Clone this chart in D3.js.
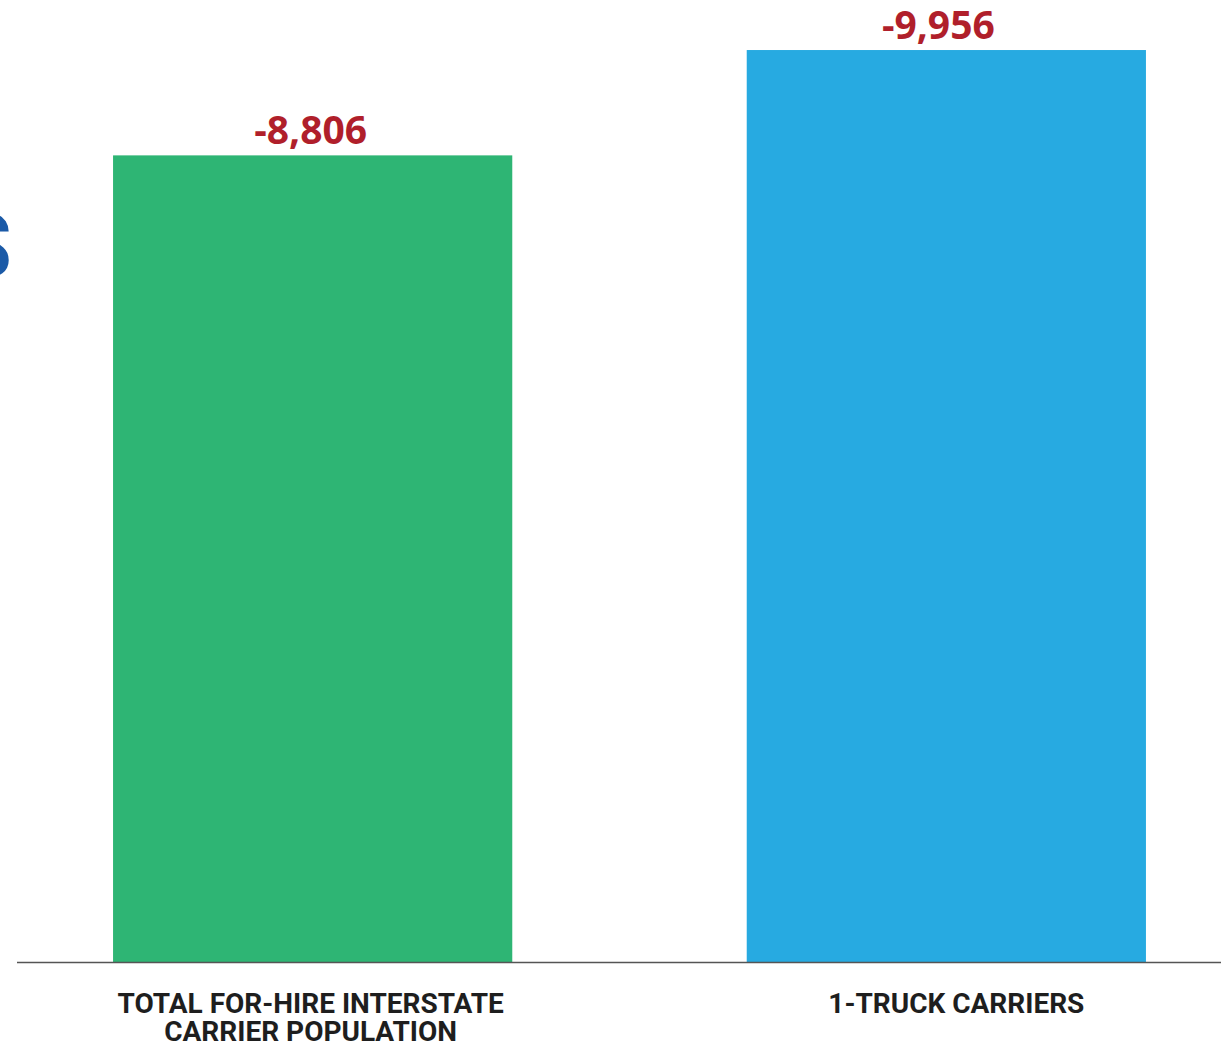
<!DOCTYPE html>
<html>
<head>
<meta charset="utf-8">
<script src="https://cdn.jsdelivr.net/npm/d3@7/dist/d3.min.js"></script>
<style>
  html, body { margin: 0; padding: 0; background: #ffffff; }
  svg { display: block; }
</style>
</head>
<body>
<svg id="chart" width="1221" height="1044"></svg>
<script>
// Change in carrier counts
const categories = ["TOTAL FOR-HIRE INTERSTATE\nCARRIER POPULATION", "1-TRUCK CARRIERS"];
const values = [-8806, -9956];
const barColors = ["#2eb574", "#27aae1"];
const valueLabels = ["-8,806", "-9,956"];

const W = 1221, H = 1044;
const baseY = 962;

// Small horizontal nudges for the text under and over each bar
const valueShift = [-2, -8];
const catShift = [-2, 10];

const svg = d3.select("#chart");

// Bars are drawn by magnitude, rising from the baseline
const y = d3.scaleLinear()
  .domain([0, 10000])
  .range([baseY, baseY - 916]);

const x = d3.scaleBand()
  .domain(categories)
  .range([18, 1241])
  .paddingInner(0.37)
  .paddingOuter(0.15);

// Edge of the heading letter that runs off the left side
svg.append("text")
  .attr("x", 12)
  .attr("y", 277)
  .attr("text-anchor", "end")
  .attr("font-family", "Roboto, 'Open Sans', sans-serif")
  .attr("font-weight", 700)
  .attr("font-size", 90)
  .attr("fill", "#1b5aa7")
  .text("S");

svg.append("g")
  .selectAll("rect")
  .data(categories)
  .join("rect")
  .attr("x", d => x(d))
  .attr("width", x.bandwidth())
  .attr("y", (d, i) => y(Math.abs(values[i])))
  .attr("height", (d, i) => y(0) - y(Math.abs(values[i])))
  .attr("fill", (d, i) => barColors[i]);

// Baseline axis without ticks
const axis = d3.axisBottom(x).tickSize(0).tickFormat("");
const axisG = svg.append("g")
  .attr("transform", `translate(0,${baseY})`)
  .call(axis);
axisG.select(".domain")
  .attr("d", `M17,0.5H${W}`)
  .attr("stroke", "#555555")
  .attr("stroke-width", 1.6);

// Value labels
svg.append("g")
  .selectAll("text")
  .data(categories)
  .join("text")
  .attr("x", (d, i) => x(d) + x.bandwidth() / 2 + valueShift[i])
  .attr("y", (d, i) => y(Math.abs(values[i])) - 11)
  .attr("text-anchor", "middle")
  .attr("font-family", "'Open Sans', Roboto, sans-serif")
  .attr("font-weight", 700)
  .attr("font-size", 39)
  .attr("fill", "#b01f2b")
  .text((d, i) => valueLabels[i]);

// Category labels
const cat = svg.append("g")
  .selectAll("text")
  .data(categories)
  .join("text")
  .attr("text-anchor", "middle")
  .attr("font-family", "Roboto, sans-serif")
  .attr("font-weight", 700)
  .attr("font-size", 28)
  .attr("fill", "#1e1e1e");

cat.each(function(d, i) {
  const t = d3.select(this);
  const cx = x(d) + x.bandwidth() / 2 + catShift[i];
  d.split("\n").forEach((line, j) => {
    t.append("tspan")
      .attr("x", cx)
      .attr("y", 1013 + j * 28)
      .text(line);
  });
});
</script>
</body>
</html>
